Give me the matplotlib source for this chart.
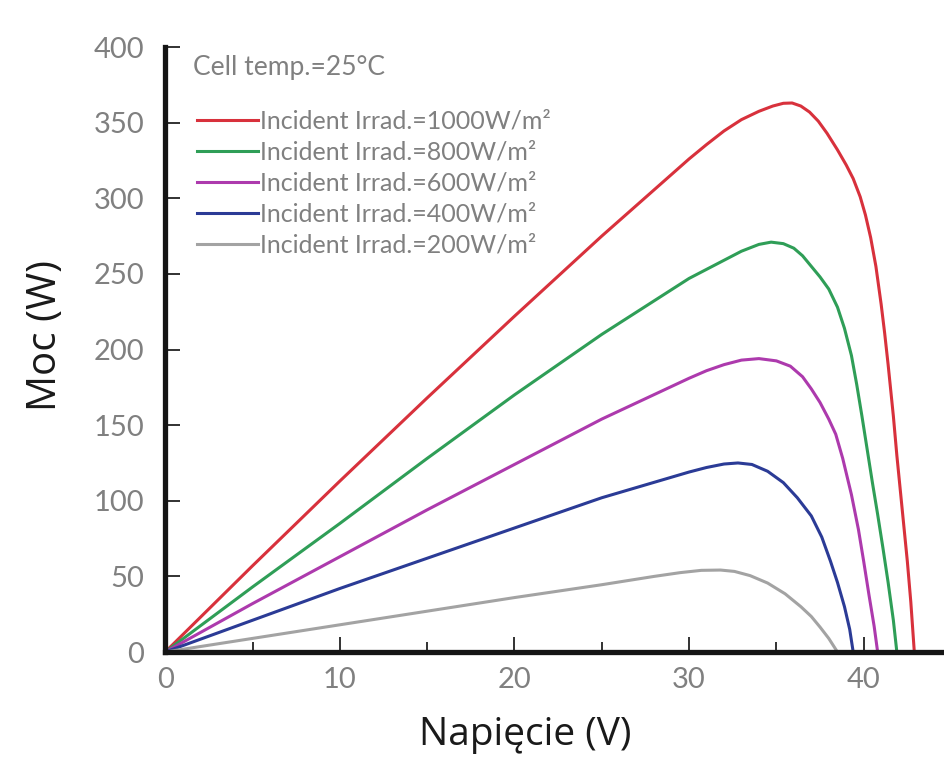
import matplotlib
matplotlib.use("Agg")
import matplotlib.pyplot as plt
from matplotlib.ticker import MultipleLocator

plt.rcParams['font.family'] = ['Lato', 'DejaVu Sans']

# power curves: voltage (V) -> power (W)
v_1000 = [0, 5, 10, 15, 20, 25, 30, 31.0, 32.0, 33.0, 34.0, 34.8, 35.4, 35.9, 36.4, 36.9, 37.4, 37.9, 38.5,
          39.0, 39.4, 39.8, 40.1, 40.4, 40.7, 41.0, 41.2, 41.4, 41.7, 41.9, 42.2, 42.5, 42.7, 42.9]
p_1000 = [0, 57, 113, 168, 222, 275, 326, 335.5, 344.5, 352, 357.5, 361, 362.8, 363, 361, 357, 351, 343, 332,
          322, 313, 301, 289, 274, 255, 230, 211, 190, 156, 130, 95, 60, 33, 0]

v_800 = [0, 5, 10, 15, 20, 25, 30, 31.0, 32.0, 33.0, 34.0, 34.7, 35.4, 36.0, 36.5, 37.0, 37.5, 38.0, 38.5,
         38.9, 39.3, 39.6, 39.9, 40.2, 40.5, 40.8, 41.1, 41.4, 41.7, 41.9]
p_800 = [0, 43, 85, 128, 170, 210, 247, 253, 259, 265, 269.5, 271, 270, 267, 262, 255, 248, 240, 228,
         214, 196, 177, 156, 134, 112, 91, 69, 46, 21, 0]

v_600 = [0, 5, 10, 15, 20, 25, 30, 31.0, 32.0, 33.0, 34.0, 35.0, 35.8, 36.5, 37.0, 37.5, 38.0, 38.4,
         38.8, 39.3, 39.7, 40.0, 40.3, 40.6, 40.8]
p_600 = [0, 32, 63, 94, 124, 154, 181, 186, 190, 193, 194, 192.5, 189, 182, 174, 165, 154, 144,
         128, 104, 81, 60, 38, 17, 0]

v_400 = [0, 5, 10, 15, 20, 25, 30, 31.0, 32.0, 32.8, 33.6, 34.5, 35.4, 36.2, 37.0, 37.6, 38.1, 38.5,
         38.9, 39.2, 39.4]
p_400 = [0, 21, 42, 62, 82, 102, 119, 122, 124.3, 125, 124, 119.5, 112, 102, 90, 76, 60, 46,
         30, 15, 0]

v_200 = [0, 5, 10, 15, 20, 25, 28.0, 29.5, 30.7, 31.8, 32.6, 33.5, 34.5, 35.5, 36.4, 37.0, 37.5, 38.0, 38.5]
p_200 = [0, 9, 18, 27, 36, 44.5, 50, 52.5, 54, 54.2, 53.3, 50.5, 45.6, 38.5, 30, 23.5, 16.5, 9, 0]

series = [
    (v_1000, p_1000, '#d8313c', 'Incident Irrad.=1000W/m²'),
    (v_800, p_800, '#2f9e57', 'Incident Irrad.=800W/m²'),
    (v_600, p_600, '#ad3aad', 'Incident Irrad.=600W/m²'),
    (v_400, p_400, '#2b3b96', 'Incident Irrad.=400W/m²'),
    (v_200, p_200, '#a3a3a3', 'Incident Irrad.=200W/m²'),
]

fig = plt.figure(figsize=(9.44, 7.61), dpi=100)
ax = fig.add_axes([0.175, 0.1432, 0.825, 0.795])

for v, p, c, lab in series:
    ax.plot(v, p, color=c, lw=2.2, label=lab, solid_joinstyle='round')

ax.set_xlim(0, 44.6)
ax.set_ylim(0, 400)

for side in ['top', 'right']:
    ax.spines[side].set_visible(False)
for side in ['left', 'bottom']:
    ax.spines[side].set_linewidth(3.8)
    ax.spines[side].set_color('#151515')

ax.xaxis.set_major_locator(MultipleLocator(10))
ax.xaxis.set_minor_locator(MultipleLocator(5))
ax.yaxis.set_major_locator(MultipleLocator(50))
ax.tick_params(axis='both', which='major', direction='in', length=11, width=1.3,
               color='#222222', labelcolor='#808080', labelsize=21, pad=12)
ax.tick_params(axis='x', which='minor', direction='in', length=7, width=1.3, color='#222222')
ax.tick_params(axis='y', which='major', pad=15)
ax.tick_params(axis='x', which='major', pad=11)

ax.set_xlabel('Napięcie (V)', fontsize=28, color='#1a1a1a', family=['Open Sans', 'DejaVu Sans'])
ax.set_ylabel('Moc (W)', fontsize=29, color='#1a1a1a', family=['Open Sans', 'DejaVu Sans'])
ax.xaxis.set_label_coords(0.462, -0.105)
ax.yaxis.set_label_coords(-0.128, 0.524)

ax.text(0.036, 0.986, 'Cell temp.=25°C', transform=ax.transAxes, fontsize=19,
        color='#808080', ha='left', va='top')
leg = ax.legend(loc='upper left', bbox_to_anchor=(0.041, 0.897), frameon=False,
                fontsize=18, handlelength=2.45, handletextpad=0.06, labelspacing=0.32,
                borderpad=0, borderaxespad=0)
for t in leg.get_texts():
    t.set_color('#808080')

fig.savefig('out.png', dpi=100)
